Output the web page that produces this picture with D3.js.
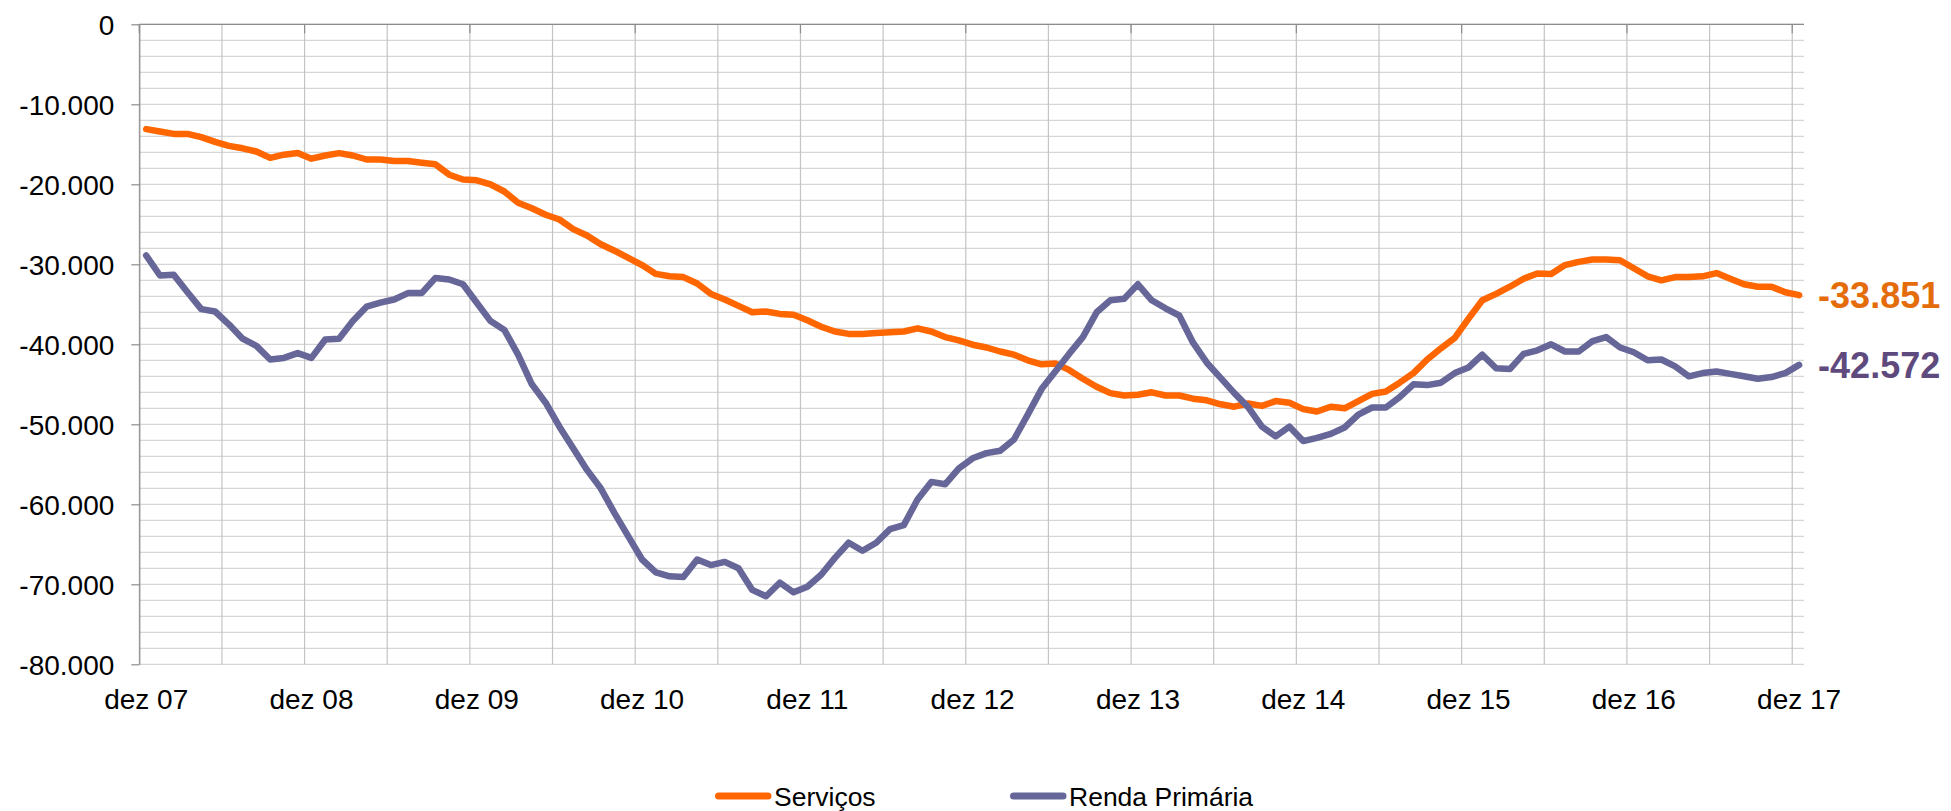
<!DOCTYPE html>
<html>
<head>
<meta charset="utf-8">
<script src="https://cdn.jsdelivr.net/npm/d3@7"></script>
<style>
  body { margin: 0; background: #fff; }
  text { font-family: "Liberation Sans", Arial, sans-serif; }
</style>
</head>
<body>
<div id="chart"></div>
<script>
// chart size, same as the browser window
const WIDTH = 1951, HEIGHT = 811;
const plot = { left: 139.3, right: 1806, top: 24.3, bottom: 664.3 };

// categories: monthly, dez 07 .. dez 17
const MONTH_NAMES = ["jan", "fev", "mar", "abr", "mai", "jun", "jul", "ago", "set", "out", "nov", "dez"];
let months = ["dez 07"];
for (let yr = 8; yr <= 17; yr++) {
    for (let m = 0; m < 12; m++) {
        months.push(MONTH_NAMES[m] + " " + String(yr).padStart(2, "0"));
    }
}

// tick labels
const yTicks = [0, -10000, -20000, -30000, -40000, -50000, -60000, -70000, -80000];
const yMinorTicks = d3.range(0, -80001, -2000);
const xLabels = ["dez 07", "dez 08", "dez 09", "dez 10", "dez 11", "dez 12", "dez 13", "dez 14", "dez 15", "dez 16", "dez 17"];

// series (US$ milhões, 12 meses acumulados)
const servicos = [
    -13100, -13400, -13700, -13700, -14100, -14700, -15200, -15500, -15900, -16700, -16300, -16100,
    -16800, -16400, -16100, -16400, -16900, -16900, -17100, -17100, -17300, -17500, -18800, -19400,
    -19500, -20000, -20900, -22300, -23000, -23800, -24400, -25600, -26400, -27500, -28300, -29200,
    -30100, -31200, -31500, -31600, -32400, -33700, -34400, -35200, -36000, -35900, -36200, -36300,
    -37000, -37800, -38400, -38700, -38700, -38600, -38500, -38400, -38000, -38400, -39100, -39500,
    -40050, -40400, -40900, -41300, -42000, -42500, -42400, -43200, -44300, -45300, -46100, -46400,
    -46300, -46000, -46400, -46400, -46800, -47000, -47500, -47800, -47400, -47700, -47100, -47300,
    -48100, -48400, -47800, -48000, -47100, -46200, -45900, -44800, -43600, -41900, -40500, -39200,
    -36800, -34500, -33700, -32800, -31800, -31150, -31200, -30100, -29700, -29400, -29400, -29500,
    -30500, -31500, -32000, -31600, -31600, -31500, -31100, -31800, -32500, -32800, -32800, -33500,
    -33851
];
const rendaPrimaria = [
    -28900, -31400, -31300, -33500, -35600, -35900, -37500, -39300, -40200, -41900, -41700, -41100,
    -41700, -39400, -39300, -37100, -35300, -34800, -34400, -33600, -33600, -31700, -31900, -32500,
    -34800, -37100, -38200, -41300, -45000, -47300, -50300, -53000, -55700, -58000, -61100, -64000,
    -66900, -68500, -69000, -69100, -66900, -67600, -67200, -68000, -70700, -71500, -69800, -71000,
    -70300, -68800, -66700, -64800, -65800, -64800, -63100, -62600, -59400, -57200, -57500, -55500,
    -54250, -53600, -53300, -51900, -48800, -45600, -43400, -41200, -39100, -36000, -34500, -34300,
    -32500, -34500, -35500, -36400, -39800, -42300, -44200, -46100, -47850, -50300, -51500, -50300,
    -52100, -51700, -51200, -50400, -48800, -47900, -47900, -46600, -45000, -45100, -44800, -43600,
    -42900, -41300, -43000, -43100, -41200, -40750, -40000, -40900, -40900, -39600, -39100, -40400,
    -41000, -42000, -41900, -42750, -44000, -43600, -43400, -43700, -44000, -44300, -44100, -43600,
    -42572
];

const seriesNames = ["Serviços", "Renda Primária"];
const lineColors = ["#ff6600", "#666699"];
const labelColors = ["#e46c0a", "#5f4a7d"];

// pt-BR style numbers: -10.000
const locale = d3.formatLocale({ decimal: ",", thousands: ".", grouping: [3], currency: ["R$", ""], minus: "-" });
const fmt = locale.format(",");

let svg = d3.select("#chart")
    .append("svg")
    .attr("width", WIDTH)
    .attr("height", HEIGHT)
    .style("background", "#fff");

let x = d3.scaleBand()
    .domain(months)
    .range([plot.left, plot.right])
    .padding(0);

let y = d3.scaleLinear()
    .domain([-80000, 0])
    .range([plot.bottom, plot.top]);

const bw = x.bandwidth();
const gridRight = plot.right - 2;

// horizontal gridlines every 2.000
svg.append("g")
    .selectAll("line")
    .data(yMinorTicks)
    .enter()
    .append("line")
    .attr("x1", plot.left)
    .attr("x2", gridRight)
    .attr("y1", d => y(d))
    .attr("y2", d => y(d))
    .attr("stroke", "#d6d6d6")
    .attr("stroke-width", 1.2);

// vertical gridlines every 6 months (category boundaries)
let vCats = months.filter((d, i) => i % 6 === 0);
svg.append("g")
    .selectAll("line")
    .data(vCats)
    .enter()
    .append("line")
    .attr("x1", d => x(d))
    .attr("x2", d => x(d))
    .attr("y1", plot.top)
    .attr("y2", plot.bottom)
    .attr("stroke", "#c4c4c4")
    .attr("stroke-width", 1.2);

// horizontal axis crosses at 0 -> line on top with yearly ticks
svg.append("line")
    .attr("x1", plot.left)
    .attr("x2", gridRight)
    .attr("y1", y(0))
    .attr("y2", y(0))
    .attr("stroke", "#8c8c8c")
    .attr("stroke-width", 1.2);

svg.append("g")
    .selectAll("line")
    .data(months.filter((d, i) => i % 12 === 0))
    .enter()
    .append("line")
    .attr("x1", d => x(d))
    .attr("x2", d => x(d))
    .attr("y1", y(0))
    .attr("y2", y(0) + 9)
    .attr("stroke", "#8c8c8c")
    .attr("stroke-width", 1.2);

// y axis
let yAxis = svg.append("g")
    .attr("transform", `translate(${plot.left}, 0)`)
    .call(d3.axisLeft(y).tickValues(yTicks).tickSize(8).tickSizeOuter(0).tickPadding(17).tickFormat(fmt));
yAxis.select(".domain").attr("stroke", "#8c8c8c").attr("stroke-width", 1.2);
yAxis.selectAll(".tick line").attr("stroke", "#8c8c8c").attr("stroke-width", 1.2);
yAxis.selectAll("text")
    .style("font-size", "28px")
    .attr("fill", "#000")
    .attr("dy", "0.36em");

// x labels at the bottom, centred on the december category
let xAxis = svg.append("g")
    .attr("transform", `translate(0, ${plot.bottom})`)
    .call(d3.axisBottom(x).tickValues(xLabels).tickSize(0).tickPadding(25));
xAxis.select(".domain").remove();
xAxis.selectAll("text")
    .style("font-size", "28px")
    .attr("fill", "#000");

// lines
const series = [servicos, rendaPrimaria];
let line = d3.line()
    .x((d, i) => x(months[i]) + bw / 2)
    .y(d => y(d));

series.forEach(function (s, k) {
    svg.append("path")
        .datum(s)
        .attr("fill", "none")
        .attr("stroke", lineColors[k])
        .attr("stroke-width", 6.5)
        .attr("stroke-linejoin", "round")
        .attr("stroke-linecap", "round")
        .attr("d", line);

    // last value label
    let last = s.length - 1;
    svg.append("text")
        .attr("x", x(months[last]) + bw / 2 + 19)
        .attr("y", y(s[last]))
        .attr("dy", "0.36em")
        .style("font-size", "36px")
        .style("font-weight", "bold")
        .attr("fill", labelColors[k])
        .text(fmt(s[last]));
});

// legend
const legendX = [715, 1010];
seriesNames.forEach(function (name, k) {
    let g = svg.append("g").attr("transform", `translate(${legendX[k]}, 796)`);
    g.append("line")
        .attr("x1", 3.5)
        .attr("x2", 53)
        .attr("y1", 0)
        .attr("y2", 0)
        .attr("stroke", lineColors[k])
        .attr("stroke-width", 7)
        .attr("stroke-linecap", "round");
    g.append("text")
        .attr("x", 59)
        .attr("y", 10)
        .style("font-size", "26.5px")
        .attr("fill", "#000")
        .text(name);
});
</script>
</body>
</html>
